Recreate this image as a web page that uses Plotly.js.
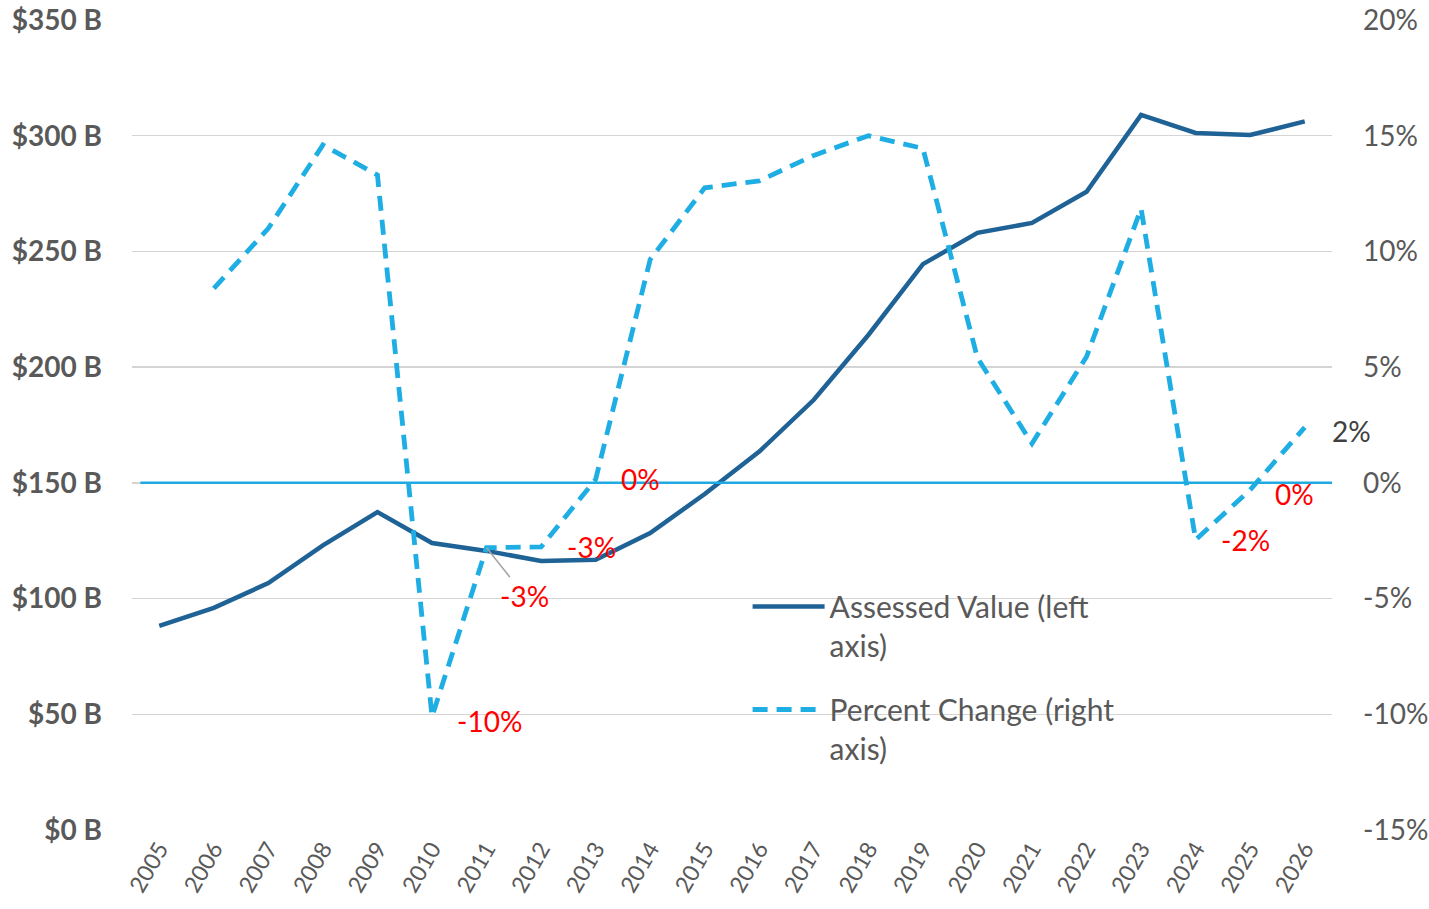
<!DOCTYPE html>
<html>
<head>
<meta charset="utf-8">
<script src="https://cdn.plot.ly/plotly-3.0.1.min.js"></script>
<style>html,body{margin:0;padding:0;background:#fff;}#chart{width:1429px;height:909px;}</style>
</head>
<body>
<div id="chart"></div>
<script>
// Data
var years = ["2005","2006","2007","2008","2009","2010","2011","2012","2013","2014","2015","2016","2017","2018","2019","2020","2021","2022","2023","2024","2025","2026"];
var assessedValue = [88.2, 96.0, 106.7, 123.0, 137.4, 124.0, 120.6, 116.2, 116.8, 128.3, 145.2, 163.5, 185.9, 213.9, 244.5, 258.0, 262.3, 275.8, 309.0, 301.2, 300.3, 306.2];
var percentChange = [null, 8.4, 11.0, 14.6, 13.3, -10.1, -2.8, -2.77, 0.15, 9.65, 12.75, 13.05, 14.15, 15.0, 14.45, 5.4, 1.7, 5.45, 11.85, -2.46, -0.3, 2.4];
var leftTicks = [0, 50, 100, 150, 200, 250, 300, 350];
var rightTicks = [-15, -10, -5, 0, 5, 10, 15, 20];
// labelled points
var labelYears = ["2010", "2012", "2013", "2024", "2025", "2026"];
var labelTexts = ["-10%", "-3%", "0%", "-2%", "0%", "2%"];
var labelColors = ["#FF0000", "#FF0000", "#FF0000", "#FF0000", "#FF0000", "#404040"];
var leaderYear = "2011";
var leaderText = "-3%";

var FONT = "Lato, 'Open Sans', sans-serif";
var GRAY = "#595959";

var traces = [
  {
    x: years, y: assessedValue, type: "scatter", mode: "lines",
    name: "Assessed Value (left<br>axis)",
    line: {color: "#1F6296", width: 4.5},
    yaxis: "y", legendgroup: "a", hoverinfo: "skip"
  },
  {
    x: years, y: percentChange, type: "scatter", mode: "lines",
    name: "Percent Change (right<br>axis)",
    line: {color: "#1FAEE4", width: 4.8, dash: "15px,9px"},
    yaxis: "y2", legendgroup: "b", hoverinfo: "skip", connectgaps: false
  }
];

var xshifts = [23, 24, 23, 23, 23, 25];
var yshifts = [-4, 0, 0, 0, -4, -4];
var annotations = [];
for (var i = 0; i < labelYears.length; i++) {
  var idx = years.indexOf(labelYears[i]);
  annotations.push({
    x: idx, y: percentChange[idx], xref: "x", yref: "y2",
    text: labelTexts[i], showarrow: false, xanchor: "left", yanchor: "middle",
    xshift: xshifts[i], yshift: yshifts[i],
    font: {family: FONT, size: 28, color: labelColors[i]}
  });
}
var li = years.indexOf(leaderYear);
annotations.push({
  x: li, y: percentChange[li], xref: "x", yref: "y2",
  text: leaderText, showarrow: true, arrowhead: 0, arrowwidth: 1.5, arrowcolor: "#A6A6A6",
  ax: 38, ay: 48, standoff: 0,
  font: {family: FONT, size: 28, color: "#FF0000"}
});

var layout = {
  width: 1429, height: 909,
  margin: {l: 132, r: 97, t: 20, b: 79},
  paper_bgcolor: "#fff", plot_bgcolor: "#fff",
  font: {family: FONT, color: GRAY},
  showlegend: true,
  legend: {
    x: 0.513, y: 0.308, xanchor: "left", yanchor: "top",
    font: {family: FONT, size: 30, color: GRAY},
    bgcolor: "rgba(0,0,0,0)", traceorder: "grouped", tracegroupgap: 22,
    itemwidth: 72, valign: "top"
  },
  xaxis: {
    type: "category", range: [-0.5, 21.5], autorange: false,
    tickangle: -60, showgrid: false, zeroline: false, showline: false,
    ticks: "", tickfont: {family: FONT, size: 23, color: GRAY}
  },
  yaxis: {
    range: [0, 350], tickvals: leftTicks, ticktext: leftTicks.map(function(v){return "$" + v + " B";}),
    showgrid: true, gridcolor: "#D4D4D4", gridwidth: 1.5, zeroline: false, showline: false,
    ticks: "", ticklabelstandoff: 29,
    tickfont: {family: FONT, size: 28, color: GRAY, weight: "bold"}
  },
  yaxis2: {
    range: [-15, 20], overlaying: "y", side: "right", tickvals: rightTicks,
    ticktext: rightTicks.map(function(v){return v + "%";}),
    showgrid: false, zeroline: false, showline: false, ticks: "", ticklabelstandoff: 30,
    tickfont: {family: FONT, size: 28, color: GRAY}
  },
  shapes: [{
    type: "line", xref: "paper", yref: "y2", x0: 0.007, x1: 1, y0: 0, y1: 0,
    line: {color: "#21A9E1", width: 2.5}, layer: "above"
  }],
  annotations: annotations
};

Plotly.newPlot("chart", traces, layout, {displayModeBar: false, staticPlot: true});
</script>
</body>
</html>
